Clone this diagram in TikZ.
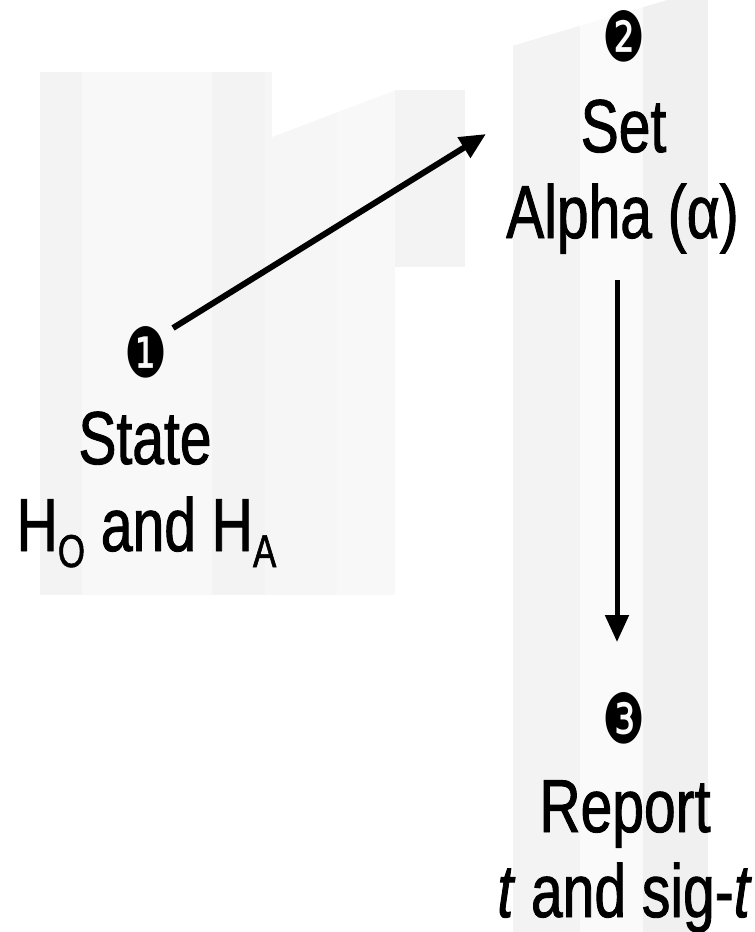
\documentclass[tikz,border=0pt]{standalone}
\usepackage{fontspec}
\usepackage{graphicx}
\setmainfont{Liberation Sans}[FakeStretch=0.76,FakeBold=1.2]
\newfontfamily\dingfont{DejaVu Sans}
\usetikzlibrary{arrows.meta}
\definecolor{wmA}{HTML}{F6F6F6}
\definecolor{wmB}{HTML}{F3F3F3}
\definecolor{wmC}{HTML}{F8F8F8}
\definecolor{wmD}{HTML}{F0F0F0}
\definecolor{wmE}{HTML}{FAFAFA}
\begin{document}
\begin{tikzpicture}[x=1pt,y=-1pt,
  lbl/.style={anchor=base, inner sep=0pt, font=\fontsize{75}{83}\selectfont},
  num/.style={inner sep=0pt},
  arr/.style={line width=6pt, -{Triangle[length=26pt,width=23pt]}},
  varr/.style={line width=5pt, -{Triangle[length=27pt,width=23pt]}}]
\useasboundingbox[fill=white] (0,0) rectangle (755,932);
% faint watermark
\fill[wmA] (40,72) rectangle (395,595);
\fill[wmB] (40,72) rectangle (82,595);
\fill[wmC] (82,72) rectangle (212,595);
\fill[wmB] (212,72) rectangle (265,595);
\fill[wmC] (337,72) rectangle (395,595);
\fill[wmB] (395,90) rectangle (465,267);
\fill[wmB] (513,0) rectangle (580,932);
\fill[wmE] (580,0) rectangle (643,932);
\fill[wmD] (643,0) rectangle (708,932);
\fill[white] (272,137) -- (515,45) -- (667,0) -- (760,-5) -- (272,-5) -- cycle;
% step 1
\node[num] (n1) at (146,352) {\resizebox{43pt}{51pt}{\dingfont ❶}};
\node[lbl] (t1a) at (145,464) {State};
\node[lbl] (t1b) at (146.5,551) {H\raisebox{-16pt}{\fontsize{46}{46}\selectfont O} and H\raisebox{-16pt}{\fontsize{46}{46}\selectfont A}};
% step 2
\node[num] (n2) at (623.5,36) {\resizebox{43pt}{51pt}{\dingfont ❷}};
\node[lbl] (t2a) at (623.5,152) {Set};
\node[lbl] (t2b) at (622.5,238) {Alpha (α)};
% step 3
\node[num] (n3) at (623.5,718.5) {\resizebox{43pt}{51pt}{\dingfont ❸}};
\node[lbl] (t3a) at (625,832) {Report};
\node[lbl] (t3b) at (624.5,917) {\textit{t} and sig-\textit{t}};
% connectors
\coordinate (a1s) at (173,328);
\coordinate (a1e) at (486,134);
\draw[arr] (a1s) -- (a1e);
\coordinate (a2s) at (617,280);
\coordinate (a2e) at (617,642);
\draw[varr] (a2s) -- (a2e);
\end{tikzpicture}
\end{document}
